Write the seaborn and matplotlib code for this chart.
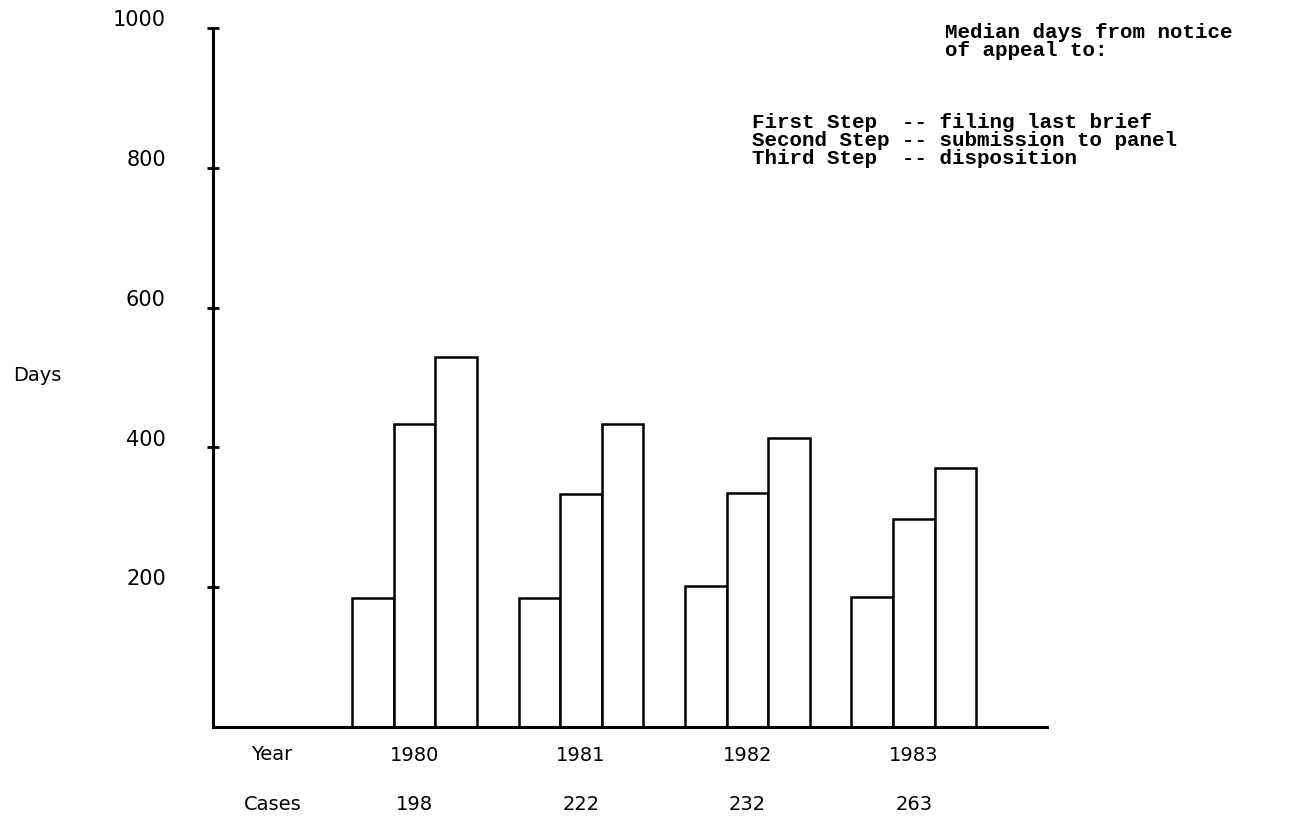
import matplotlib
matplotlib.use("Agg")
import matplotlib.pyplot as plt
import matplotlib.transforms as mtransforms
import seaborn as sns
import pandas as pd

# ---- data ----
years = ["1980", "1981", "1982", "1983"]
cases = ["198", "222", "232", "263"]
steps = ["First Step", "Second Step", "Third Step"]
first_step = [185, 185, 202, 186]
second_step = [434, 334, 335, 297]
third_step = [530, 434, 413, 370]
y_ticks = [200, 400, 600, 800, 1000]
legend_title = ["Median days from notice", "of appeal to:"]
legend_lines = ["First Step  -- filing last brief",
                "Second Step -- submission to panel",
                "Third Step  -- disposition"]

df = pd.DataFrame({
    "Year": years * 3,
    "Step": [steps[0]] * 4 + [steps[1]] * 4 + [steps[2]] * 4,
    "Days": first_step + second_step + third_step,
})

sns.set_theme(style="white")
plt.rcParams['font.family'] = ['DejaVu Sans']

W, H = 1301, 816
fig = plt.figure(figsize=(W / 100, H / 100), dpi=100)
fig.patch.set_facecolor("white")
ax = fig.add_axes([213 / W, 89 / H, 834 / W, 699 / H])

sns.barplot(data=df, x="Year", y="Days", hue="Step", order=years, hue_order=steps,
            palette=["white"] * 3, edgecolor="black", linewidth=1.8, width=0.75,
            saturation=1, errorbar=None, legend=False, ax=ax)

ax.set_xlim(-1.211, 3.80)
ax.set_ylim(0, 1000)
ax.set_facecolor("white")
for s in ["top", "right"]:
    ax.spines[s].set_visible(False)
for s in ["left", "bottom"]:
    ax.spines[s].set_color("black")
    ax.spines[s].set_linewidth(2.2)

ax.set_yticks(y_ticks)
ax.set_yticklabels([str(v) for v in y_ticks], fontsize=15, color="black")
ax.tick_params(axis="y", direction="inout", length=8, width=2, color="black", pad=30, left=True)
ax.tick_params(axis="x", length=0, pad=14, labelsize=14, labelcolor="black")
ax.set_xticklabels(years)
ax.set_xlabel("")
ax.set_ylabel("")

offset = mtransforms.ScaledTranslation(0, 7 / 72, fig.dpi_scale_trans)
for lab in ax.get_yticklabels():
    lab.set_transform(lab.get_transform() + offset)

# cases row
trans = mtransforms.blended_transform_factory(ax.transData, ax.transAxes)
cy = (H - 805 - 89) / 699
for i, c in enumerate(cases):
    ax.text(i, cy, c, transform=trans, ha="center", va="center", fontsize=14, color="black")

def px(x, y):
    return x / W, 1 - y / H

fig.text(*px(272, 755), "Year", ha="center", va="center", fontsize=14, color="black")
fig.text(*px(273, 805), "Cases", ha="center", va="center", fontsize=14, color="black")
fig.text(*px(37, 376), "Days", ha="center", va="center", fontsize=14, color="black")

mono = dict(family="Liberation Mono", fontweight="bold", fontsize=15, color="black",
            ha="left", va="center")
for j, t in enumerate(legend_title):
    fig.text(*px(945, 32 + 18 * j), t, **mono)
for j, t in enumerate(legend_lines):
    fig.text(*px(752, 122 + 18 * j), t, **mono)

fig.savefig("out.png", dpi=100)
